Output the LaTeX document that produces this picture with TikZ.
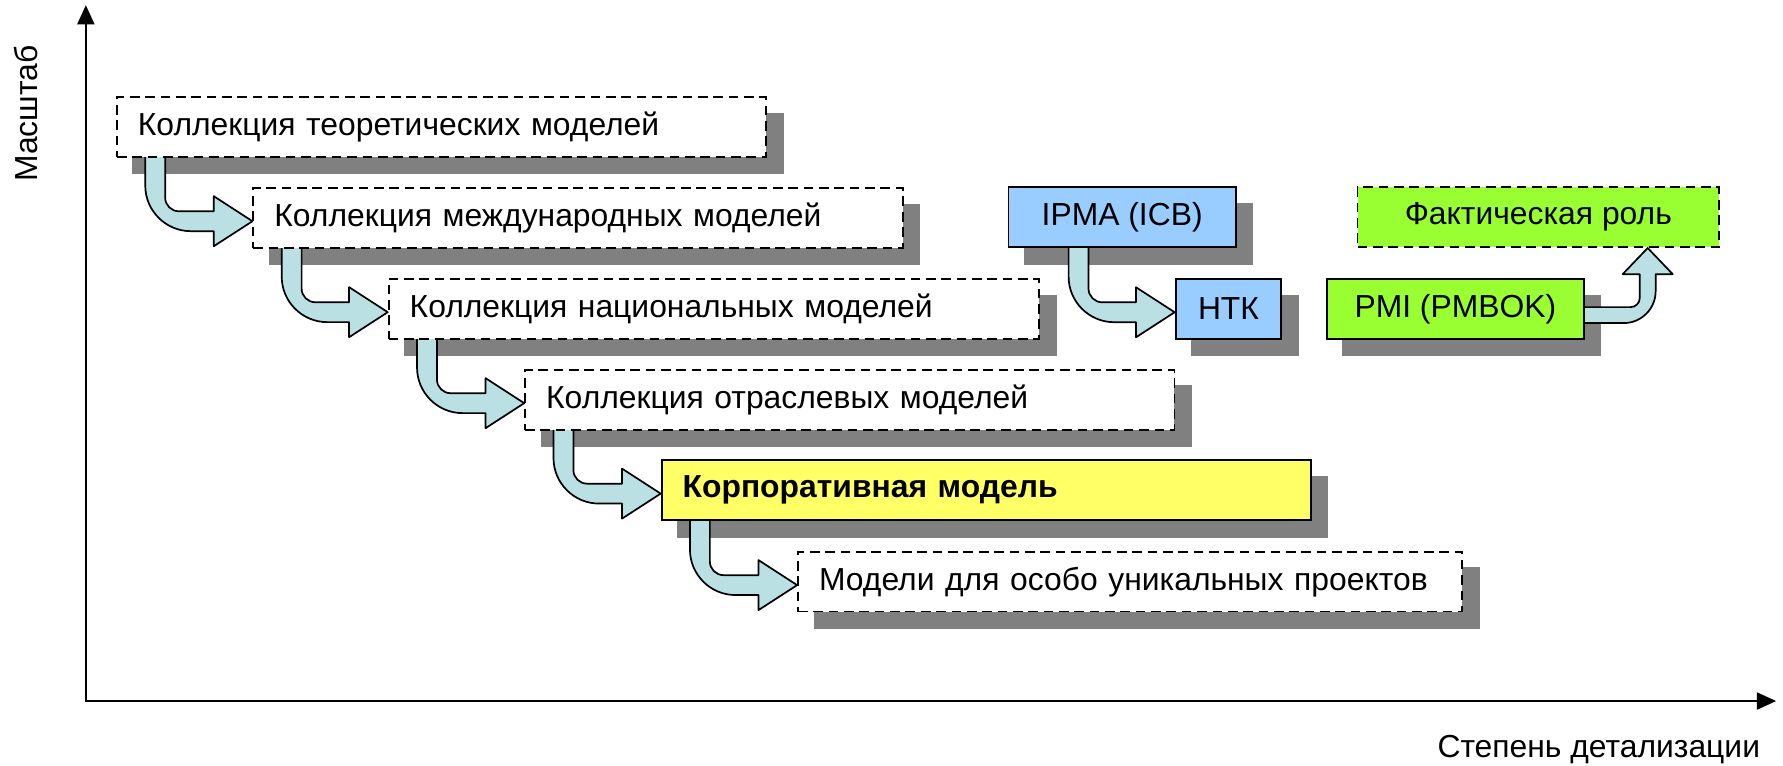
\documentclass[tikz,border=0pt]{standalone}
\usepackage{fontspec}
\setmainfont{Liberation Sans}
\usetikzlibrary{calc,arrows.meta}
\pgfdeclarelayer{shadowlayer}
\pgfdeclarelayer{arrowlayer}
\pgfsetlayers{shadowlayer,arrowlayer,main}
\definecolor{shadowgray}{RGB}{128,128,128}
\definecolor{arrowfill}{RGB}{187,224,227}
\definecolor{yelfill}{RGB}{255,255,102}
\definecolor{bluefill}{RGB}{153,204,255}
\definecolor{greenfill}{RGB}{153,255,51}
\newcommand\fsz{\fontsize{28}{33}\selectfont}
\newcommand\bAW{8.75pt}
\newcommand\bHL{34pt}
\newcommand\bHH{22pt}
\newcommand\bRO{40pt}
\newcommand\bRI{12pt}
\newcommand\cW{7pt}
\newcommand\cHL{23pt}
\newcommand\cHH{22pt}
\newcommand\cRO{28pt}
\newcommand\cRI{8pt}
% source node, target node, x offset of the shaft from the source's left edge
\newcommand\bendarrow[3]{%
 \path[barrow] let \p1=(#1.south west), \p2=(#2.west),
   \p3=($(#1.south west)+(#3,0)$), \p4=($(#2.west)+(0,3)$) in
  ({\x3-\bAW},{\y1+3pt}) -- ({\x3-\bAW},{\y4-\bAW+\bRO})
  .. controls ({\x3-\bAW},{\y4-\bAW+0.45*\bRO}) and ({\x3-\bAW+0.45*\bRO},{\y4-\bAW}) ..
  ({\x3-\bAW+\bRO},{\y4-\bAW}) -- ({\x2-\bHL},{\y4-\bAW}) -- ({\x2-\bHL},{\y4-\bHH})
  -- (\x2,\y4) -- ({\x2-\bHL},{\y4+\bHH}) -- ({\x2-\bHL},{\y4+\bAW})
  -- ({\x3+\bAW+\bRI},{\y4+\bAW})
  .. controls ({\x3+\bAW+0.45*\bRI},{\y4+\bAW}) and ({\x3+\bAW},{\y4+\bAW+0.45*\bRI}) ..
  ({\x3+\bAW},{\y4+\bAW+\bRI}) -- ({\x3+\bAW},{\y1+3pt}) -- cycle;}
\tikzset{
  barrow/.style={draw=black, fill=arrowfill, line width=1.5pt, line join=round},
  dashedborder/.style={line width=1.6pt, dash pattern=on 8.5pt off 5pt},
  tbox/.style={draw, dashedborder, fill=white,
    anchor=north west, minimum height=52.5pt, inner xsep=18.5pt, inner ysep=0pt,
    align=left, font=\fsz},
  sbox/.style={draw, line width=1.7pt, anchor=north west, minimum height=52.5pt,
    inner xsep=18.5pt, inner ysep=0pt, font=\fsz},
  cbox/.style={sbox, align=center, inner xsep=2pt},
  axisline/.style={line width=1.75pt, line join=miter},
  lbl/.style={font=\fsz, inner sep=0pt}
}
\begin{document}
\begin{tikzpicture}[x=1pt,y=-1pt]
\useasboundingbox (0,0) rectangle (1568,673.6);
% axes
\coordinate (O) at (75.5,616.5);
\coordinate (ytip) at (75.5,4.5);
\coordinate (xtip) at (1562,616.5);
\draw[axisline,{Triangle[length=17pt,width=15pt]}-{Triangle[length=17pt,width=15pt]}] (ytip) -- (O) -- (xtip);
\node[lbl, rotate=90] (ylab) at (23,100) {Масштаб};
\node[lbl, anchor=base east] (xlab) at (1548,666) {Степень детализации};
% boxes
\node[tbox, text width=534pt] (b1) at (102,84.5) {Коллекция теоретических моделей};
\node[tbox, text width=534pt] (b2) at (222,164.5) {Коллекция международных моделей};
\node[tbox, text width=535pt] (b3) at (341,244.5) {Коллекция национальных моделей};
\node[tbox, text width=534pt] (b4) at (461,324.5) {Коллекция отраслевых моделей};
\node[sbox, fill=yelfill, text width=534pt, align=left, font=\fsz\bfseries] (b5) at (581,404) {Корпоративная модель};
\node[tbox, text width=547pt] (b6) at (701,484.5) {Модели для особо уникальных проектов};
\node[cbox, fill=bluefill, minimum width=200pt] (ipma) at (886,164) {IPMA (ICB)};
\node[cbox, fill=bluefill, minimum width=93pt] (ntk) at (1033,244.5) {НТК};
\node[cbox, fill=greenfill, minimum width=318pt, dashedborder] (fact) at (1193,164) {Фактическая роль};
\node[cbox, fill=greenfill, minimum width=226pt] (pmi) at (1166,244.5) {PMI (PMBOK)};
% shadows
\begin{pgfonlayer}{shadowlayer}
\foreach \n in {b1,b2,b3,b4,b5,b6,ipma,ntk,pmi}
  \fill[shadowgray] ($(\n.north west)+(14.5,14.5)$) rectangle ($(\n.south east)+(14.5,14.5)$);
\end{pgfonlayer}
% block arrows
\begin{pgfonlayer}{arrowlayer}
\bendarrow{b1}{b2}{34.5}
\bendarrow{b2}{b3}{34.5}
\bendarrow{b3}{b4}{34.5}
\bendarrow{b4}{b5}{34.5}
\bendarrow{b5}{b6}{34.5}
\bendarrow{ipma}{ntk}{62.5}
\path[barrow] let \p1=(pmi.east), \p2=($(fact.south west)+(256,0)$), \p3=($(pmi.east)+(0,5.5)$) in
  ({\x1-3pt},{\y3+\cW}) -- ({\x2-\cW-\cRI},{\y3+\cW})
  .. controls ({\x2-\cW-0.45*\cRI},{\y3+\cW}) and ({\x2-\cW},{\y3+\cW+0.45*\cRI}) ..
  ({\x2-\cW},{\y3+\cW+\cRI}) -- ({\x2-\cW},{\y2-\cHL}) -- ({\x2-\cHH},{\y2-\cHL})
  -- (\x2,\y2) -- ({\x2+\cHH},{\y2-\cHL}) -- ({\x2+\cW},{\y2-\cHL})
  -- ({\x2+\cW},{\y3-\cW+\cRO})
  .. controls ({\x2+\cW},{\y3-\cW+0.45*\cRO}) and ({\x2+\cW-0.45*\cRO},{\y3-\cW}) ..
  ({\x2+\cW-\cRO},{\y3-\cW}) -- ({\x1-3pt},{\y3-\cW}) -- cycle;
\end{pgfonlayer}
\end{tikzpicture}
\end{document}
